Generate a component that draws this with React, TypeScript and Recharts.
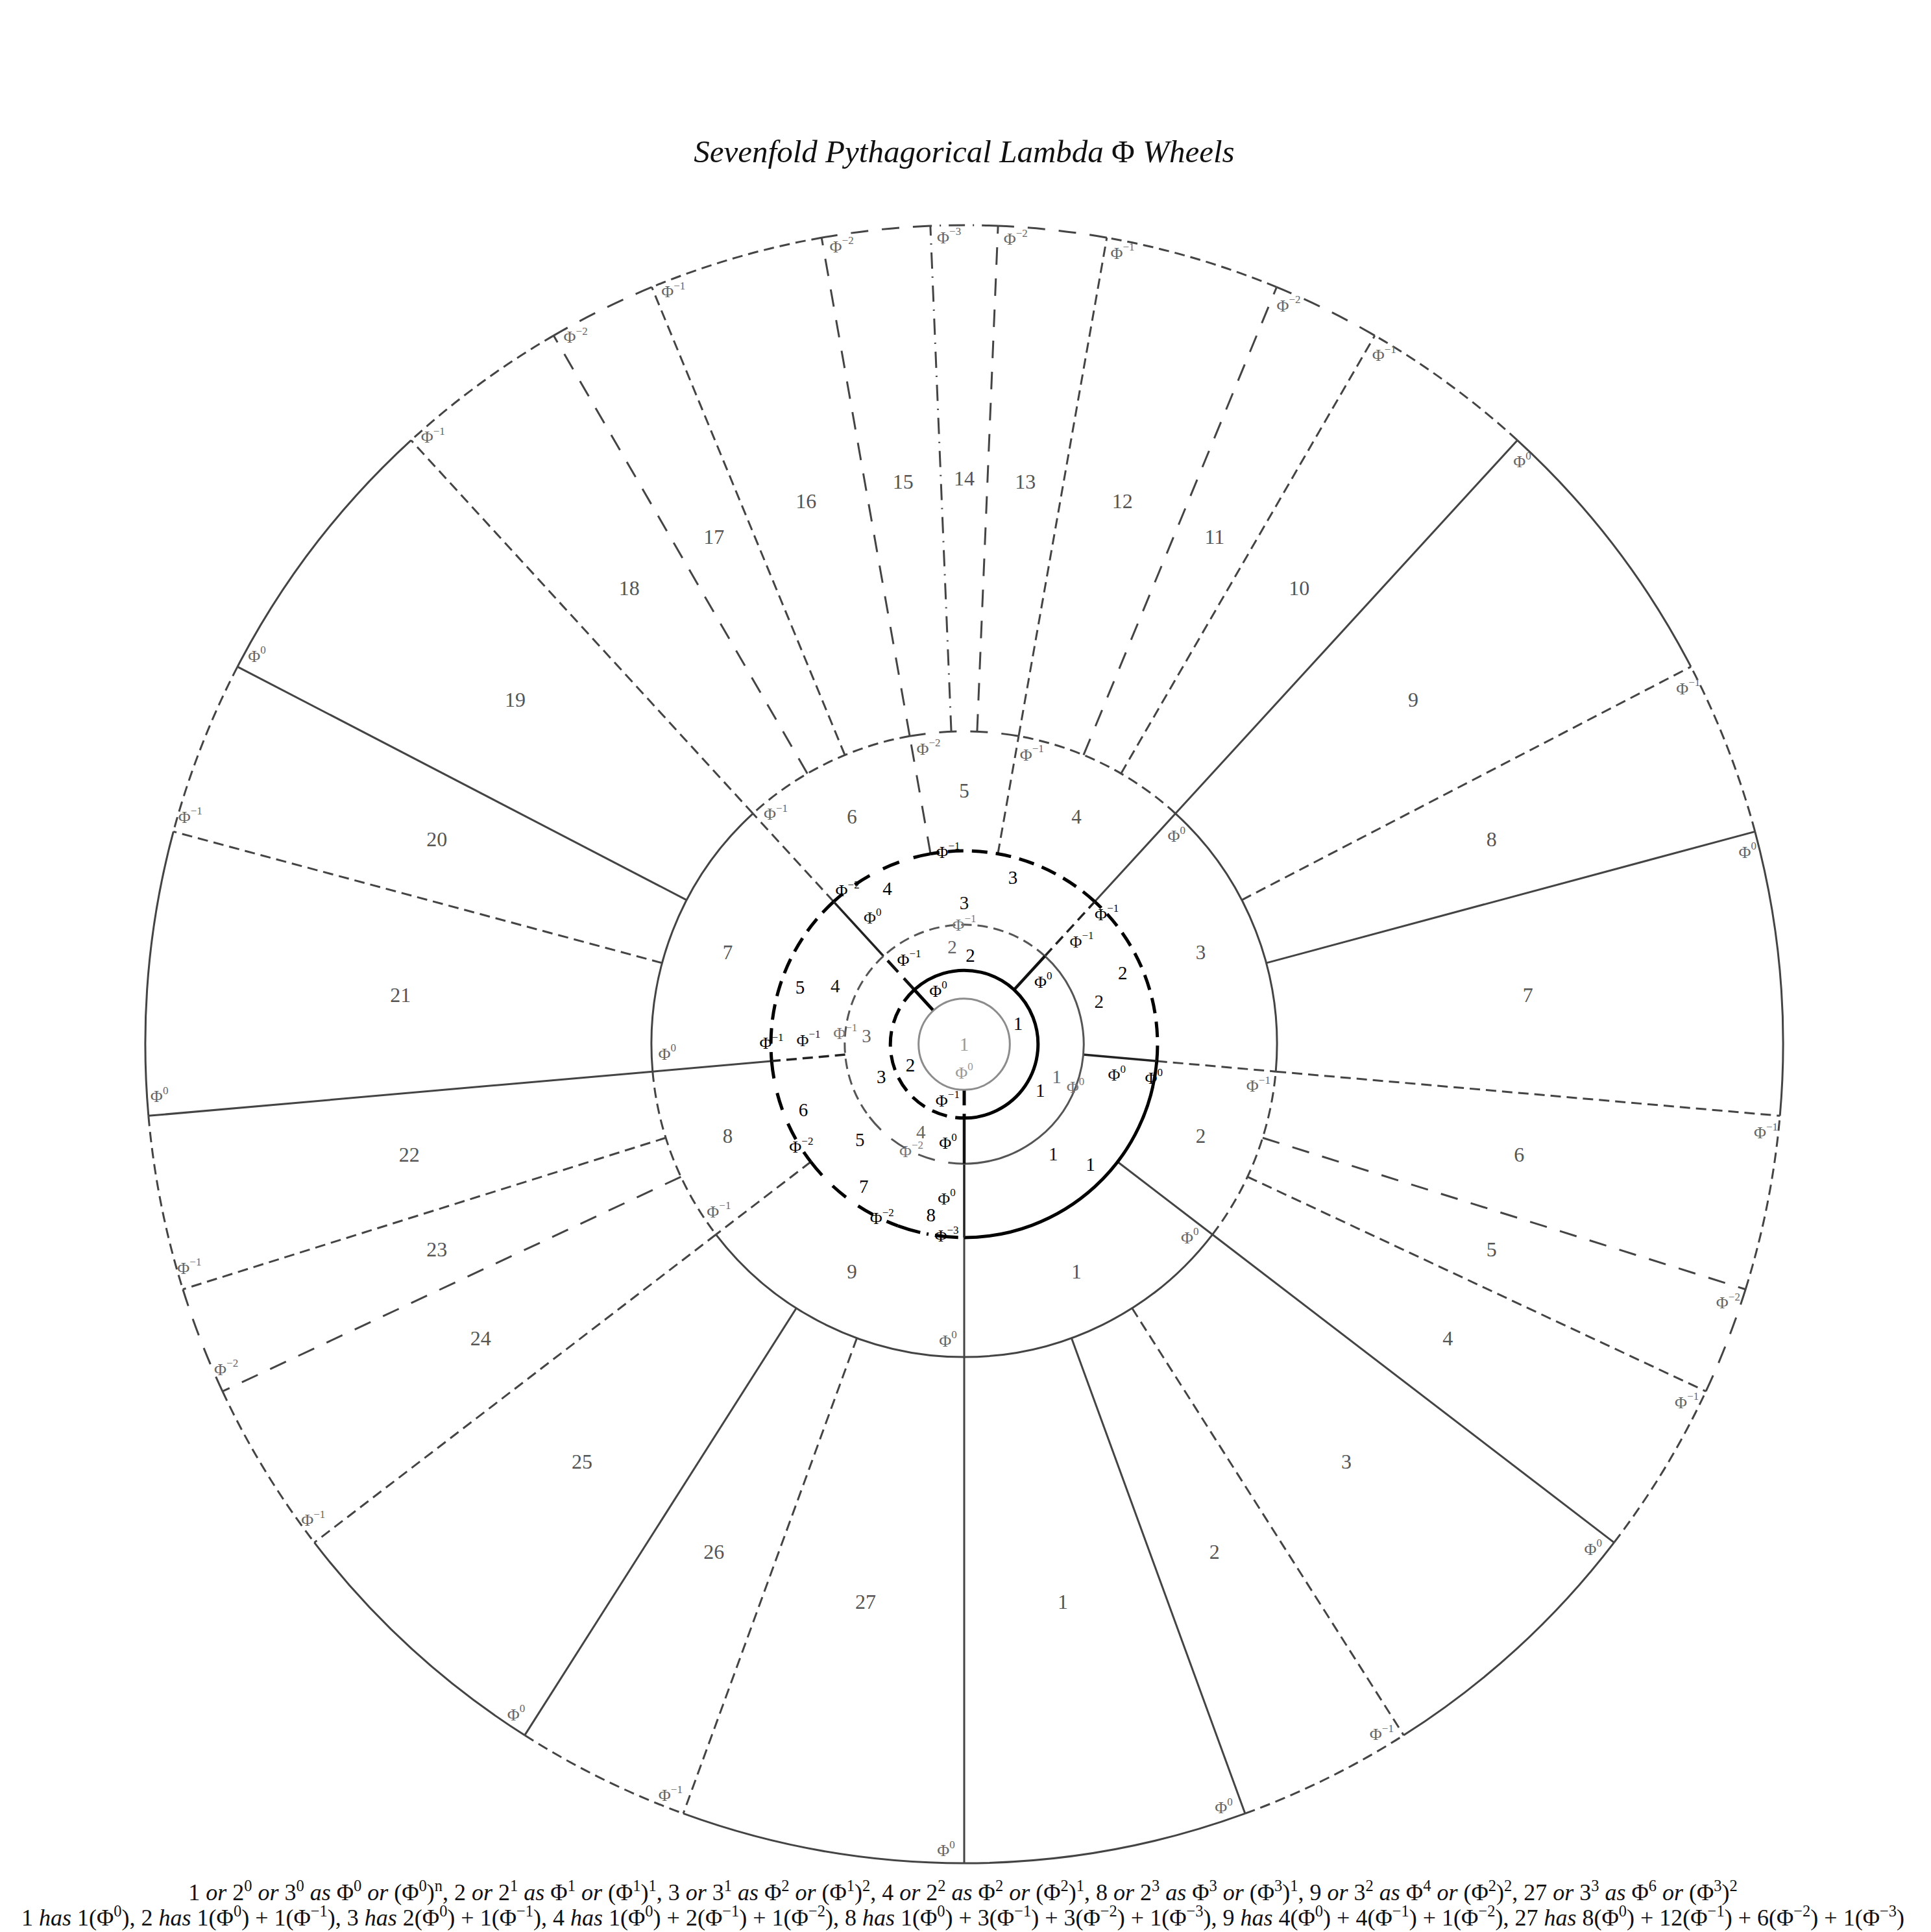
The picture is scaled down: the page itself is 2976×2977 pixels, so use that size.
import React from "react";
import { PieChart, Pie } from "recharts";

const W = 2976;
const H = 2977;
const CX = 1486;
const CY = 1609;
const UNIT = 70.33; // radius of the innermost wheel, px
const PHI = (1 + Math.sqrt(5)) / 2;
const RAD = Math.PI / 180;
const FONT = "'Liberation Serif', 'DejaVu Serif', serif";

const TITLE = "Sevenfold Pythagorical Lambda Φ Wheels";

// exponent k of every segment, counter-clockwise from the bottom; a segment spans Φ^-k
const wheel1 = [0];
const wheel2 = [0, 1];
const wheel3 = [0, 1, 0];
const wheel4 = [0, 1, 1, 2];
const wheel5 = [0, 1, 0, 1, 0];
const wheel8 = [0, 1, 1, 2, 1, 2, 2, 3];
const wheel9 = [0, 1, 0, 1, 2, 1, 0, 1, 0];
const wheel27 = [
  0, 1, 0, 1, 2, 1, 0, 1, 0,
  1, 2, 1, 2, 3, 2, 1, 2, 1,
  0, 1, 0, 1, 2, 1, 0, 1, 0,
];

// first caption line: n or base^pow as Φ^p or (Φ^a)^b
const powerForms = [
  { n: "1", forms: [["2", "0"], ["3", "0"]], phi: "0", inner: "0", outer: "n" },
  { n: "2", forms: [["2", "1"]], phi: "1", inner: "1", outer: "1" },
  { n: "3", forms: [["3", "1"]], phi: "2", inner: "1", outer: "2" },
  { n: "4", forms: [["2", "2"]], phi: "2", inner: "2", outer: "1" },
  { n: "8", forms: [["2", "3"]], phi: "3", inner: "3", outer: "1" },
  { n: "9", forms: [["3", "2"]], phi: "4", inner: "2", outer: "2" },
  { n: "27", forms: [["3", "3"]], phi: "6", inner: "3", outer: "2" },
];
const captionWheels: [string, number[]][] = [
  ["1", wheel1], ["2", wheel2], ["3", wheel3], ["4", wheel4],
  ["8", wheel8], ["9", wheel9], ["27", wheel27],
];

type Wheel = {
  n: string;
  exps: number[];
  rIn: number | null; // ring bounds as powers of Φ
  rOut: number;
  color: string;
  width: number;
  arc: boolean;
  radial: boolean;
  numColor: string;
  numR: number;
  numSize: number;
  phiColor: string;
  phiR: number;
  phiGap: number;
  phiMid?: boolean;
  nudge?: number[];
};

// drawn from the outside in
const WHEELS: Wheel[] = [
  { n: "27", exps: wheel27, rIn: 4, rOut: 6, color: "#444", width: 3, arc: true, radial: true,
    numColor: "#555", numR: 872, numSize: 32, phiColor: "#666", phiR: 1243, phiGap: 28 },
  { n: "9", exps: wheel9, rIn: 3, rOut: 4, color: "#444", width: 3, arc: true, radial: true,
    numColor: "#555", numR: 391, numSize: 31, phiColor: "#666", phiR: 458, phiGap: 25 },
  { n: "8", exps: wheel8, rIn: 2, rOut: 3, color: "#000", width: 5, arc: true, radial: false,
    numColor: "#000", numR: 268, numSize: 29, phiColor: "#000", phiR: 297, phiGap: 27,
    nudge: [4, 3, 0, 0, 2, 1, 1, -1] },
  { n: "5", exps: wheel5, rIn: 2, rOut: 3, color: "#222", width: 3.5, arc: false, radial: true,
    numColor: "#111", numR: 218, numSize: 29, phiColor: "#111", phiR: 240, phiGap: 27,
    nudge: [-3.5, -3.5, 0, -3, -5] },
  { n: "4", exps: wheel4, rIn: 1, rOut: 2, color: "#555", width: 3, arc: true, radial: false,
    numColor: "#666", numR: 151, numSize: 29, phiColor: "#777", phiR: 184, phiGap: 0,
    phiMid: true, nudge: [2, 7, 0, 0] },
  { n: "3", exps: wheel3, rIn: 1, rOut: 2, color: "#111", width: 4.5, arc: false, radial: true,
    numColor: "#000", numR: 137, numSize: 29, phiColor: "#000", phiR: 155, phiGap: 25,
    nudge: [-10, -4, 0] },
  { n: "2", exps: wheel2, rIn: 0, rOut: 1, color: "#000", width: 5, arc: true, radial: true,
    numColor: "#000", numR: 89, numSize: 29, phiColor: "#000", phiR: 91, phiGap: 26 },
  { n: "1", exps: wheel1, rIn: null, rOut: 0, color: "#8c8c8c", width: 3, arc: true, radial: false,
    numColor: "#999", numR: 0, numSize: 29, phiColor: "#999", phiR: 44, phiGap: 0 },
];

const radiusOf = (p: number | null) => (p === null ? 0 : UNIT * Math.pow(PHI, p));

const polar = (cx: number, cy: number, r: number, a: number) => [
  cx + r * Math.cos(-a * RAD),
  cy + r * Math.sin(-a * RAD),
];

const arcPath = (cx: number, cy: number, r: number, a0: number, a1: number) => {
  const [x0, y0] = polar(cx, cy, r, a0);
  const [x1, y1] = polar(cx, cy, r, a1);
  const large = a1 - a0 > 180 ? 1 : 0;
  return `M${x0},${y0} A${r},${r} 0 ${large} 0 ${x1},${y1}`;
};

const dashFor = (k: number, thick: boolean) => {
  if (k === 0) return undefined;
  const thin = ["16 9", "27 21", "25 12 2 12"];
  const bold = ["24 13", "27 23", "36 10 3 10"];
  return (thick ? bold : thin)[k - 1];
};

const PhiLabel = ({ x, y, k, color }: { x: number; y: number; k: number; color: string }) => (
  <text x={x} y={y} textAnchor="middle" dominantBaseline="central" fill={color}
    fontFamily={FONT} fontSize={26}>
    Φ<tspan fontSize={17} dy={-10}>{k === 0 ? "0" : `−${k}`}</tspan>
  </text>
);

const renderSegment = (w: Wheel) => (p: any) => {
  const k: number = p.payload?.exp ?? p.exp;
  const { cx, cy, innerRadius: r0, outerRadius: r1, startAngle: a0, endAngle: a1, midAngle, index } = p;
  const dash = dashFor(k, w.width >= 4);
  const line = { stroke: w.color, strokeWidth: w.width, strokeDasharray: dash, fill: "none" };
  const phiA = w.phiMid ? midAngle : a1 - w.phiGap / w.phiR / RAD;
  const [px, py] = polar(cx, cy, w.phiR, phiA);
  const [nx, ny] = polar(cx, cy, w.numR, midAngle + (w.nudge?.[index] ?? 0));
  const [lx0, ly0] = polar(cx, cy, r0, a1);
  const [lx1, ly1] = polar(cx, cy, r1, a1);
  return (
    <g key={`${w.n}-${index}`}>
      {w.arc &&
        (a1 - a0 >= 359.99 ? (
          <circle cx={cx} cy={cy} r={r1} {...line} />
        ) : (
          <path d={arcPath(cx, cy, r1, a0, a1)} {...line} />
        ))}
      {w.radial && <line x1={lx0} y1={ly0} x2={lx1} y2={ly1} {...line} />}
      <PhiLabel x={px} y={py} k={k} color={w.phiColor} />
      <text x={nx} y={ny} textAnchor="middle" dominantBaseline="central" fill={w.numColor}
        fontFamily={FONT} fontSize={w.numSize}>
        {index + 1}
      </text>
    </g>
  );
};

type Part = [string, "n" | "i" | "s"];

const spans = (parts: Part[], size: number) => {
  let up = false;
  const shift = size * 0.38;
  return parts.map(([t, kind], i) => {
    const sup = kind === "s";
    let dy: number | undefined;
    if (sup && !up) { dy = -shift; up = true; }
    else if (!sup && up) { dy = shift; up = false; }
    return (
      <tspan key={i} dy={dy} fontSize={sup ? size * 0.68 : undefined}
        fontStyle={kind === "i" ? "italic" : undefined}>
        {t}
      </tspan>
    );
  });
};

const line1Parts = (): Part[] => {
  const out: Part[] = [];
  powerForms.forEach((f, i) => {
    out.push([f.n, "n"], [" ", "n"]);
    f.forms.forEach(([b, e]) => {
      out.push(["or", "i"], [" " + b, "n"], [e, "s"], [" ", "n"]);
    });
    out.push(["as", "i"], [" Φ", "n"], [f.phi, "s"], [" ", "n"], ["or", "i"],
      [" (Φ", "n"], [f.inner, "s"], [")", "n"], [f.outer, "s"]);
    if (i < powerForms.length - 1) out.push([", ", "n"]);
  });
  return out;
};

const line2Parts = (): Part[] => {
  const out: Part[] = [];
  captionWheels.forEach(([n, exps], i) => {
    const counts: number[] = [];
    exps.forEach((k) => { counts[k] = (counts[k] ?? 0) + 1; });
    out.push([n + " ", "n"], ["has", "i"], [" ", "n"]);
    counts.forEach((c, k) => {
      if (k > 0) out.push([" + ", "n"]);
      out.push([`${c}(Φ`, "n"], [k === 0 ? "0" : `−${k}`, "s"], [")", "n"]);
    });
    if (i < captionWheels.length - 1) out.push([", ", "n"]);
  });
  return out;
};

export default function App() {
  return (
    <div style={{ position: "relative", width: W, height: H, background: "#fff" }}>
      <style>{"body{margin:0;overflow:hidden;background:#fff}"}</style>
      <PieChart width={W} height={H} margin={{ top: 0, right: 0, bottom: 0, left: 0 }}>
        {WHEELS.map((w) => (
          <Pie
            key={w.n}
            data={w.exps.map((k, i) => ({ name: `${w.n}-${i + 1}`, exp: k, value: Math.pow(PHI, -k) }))}
            dataKey="value"
            nameKey="name"
            cx={CX}
            cy={CY}
            innerRadius={radiusOf(w.rIn)}
            outerRadius={radiusOf(w.rOut)}
            startAngle={-90}
            endAngle={270}
            fill="none"
            stroke="none"
            label={renderSegment(w)}
            labelLine={false}
            isAnimationActive={false}
          />
        ))}
      </PieChart>
      <svg width={W} height={H} style={{ position: "absolute", left: 0, top: 0, pointerEvents: "none" }}>
        <text x={1486} y={250} textAnchor="middle" fontFamily={FONT} fontSize={49} fill="#111">
          <tspan fontStyle="italic">{TITLE.split("Φ")[0]}</tspan>
          <tspan>Φ</tspan>
          <tspan fontStyle="italic">{TITLE.split("Φ")[1]}</tspan>
        </text>
        <text x={1484} y={2928} textAnchor="middle" fontFamily={FONT} fontSize={36} fill="#111"
          style={{ whiteSpace: "pre" }}>
          {spans(line1Parts(), 36)}
        </text>
        <text x={1484} y={2967} textAnchor="middle" fontFamily={FONT} fontSize={36} fill="#111"
          style={{ whiteSpace: "pre" }}>
          {spans(line2Parts(), 36)}
        </text>
      </svg>
    </div>
  );
}
